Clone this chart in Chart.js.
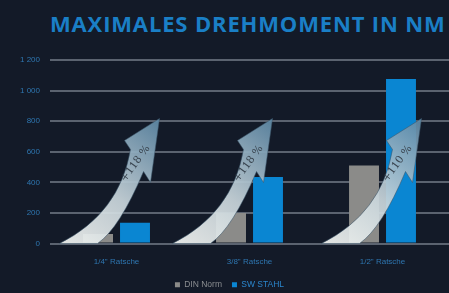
<!DOCTYPE html>
<html>
<head>
<meta charset="utf-8">
<script src="https://cdn.jsdelivr.net/npm/chart.js@4"></script>
<style>
  html, body { margin: 0; padding: 0; background: #131a28; }
  #wrap { position: relative; width: 449px; height: 293px; overflow: hidden; }
  #title { position: absolute; left: 50px; top: 8px; white-space: nowrap;
    font-family: "Open Sans", sans-serif; font-weight: 700; font-size: 22px;
    letter-spacing: 0.85px; color: #1a7fc6; }
  canvas { position: absolute; left: 0; top: 0; }
</style>
</head>
<body>
<div id="wrap">
  <div id="title">MAXIMALES DREHMOMENT IN NM</div>
  <canvas id="c" width="449" height="299"></canvas>
</div>
<script>
  "use strict";
  // Daten
  var categories = ['1/4" Ratsche', '3/8" Ratsche', '1/2" Ratsche'];
  var dinNorm = [62, 200, 510];
  var swStahl = [135, 435, 1075];
  var increase = ["+118 %", "+118 %", "+110 %"];
  var yTicks = [0, 200, 400, 600, 800, 1000, 1200];

  var BLUE = "#0a86d2", GRAY = "#8b8b89";

  // Pfeile mit Prozentangabe (Form relativ zum Fußpunkt links unten)
  var arrowShift = [-57, -77, -61];
  var arrowPlugin = {
    id: "arrows",
    afterDatasetsDraw: function (chart) {
      var ctx = chart.ctx, xs = chart.scales.x, ys = chart.scales.y;
      var y0 = ys.getPixelForValue(0);
      categories.forEach(function (c, i) {
        var tx = xs.getPixelForValue(i) + arrowShift[i];
        function P(dx, dy) { return [tx + dx, y0 + dy]; }
        ctx.save();
        var g = ctx.createLinearGradient(tx, y0, tx + 99, y0 - 125);
        g.addColorStop(0, "#f4f6f3");
        g.addColorStop(0.45, "#c8d5db");
        g.addColorStop(1, "#5d88a5");
        ctx.fillStyle = g;
        ctx.globalAlpha = 0.93;
        ctx.beginPath();
        var p = P(0, 0); ctx.moveTo(p[0], p[1]);
        var c1 = P(60, -30), e1 = P(71, -94);
        ctx.quadraticCurveTo(c1[0], c1[1], e1[0], e1[1]);
        p = P(65, -103); ctx.lineTo(p[0], p[1]);
        p = P(100, -125); ctx.lineTo(p[0], p[1]);
        p = P(91, -61); ctx.lineTo(p[0], p[1]);
        p = P(84, -72); ctx.lineTo(p[0], p[1]);
        var c2 = P(60, -15), e2 = P(38, 0);
        ctx.quadraticCurveTo(c2[0], c2[1], e2[0], e2[1]);
        ctx.closePath();
        ctx.fill();
        ctx.globalAlpha = 1;
        ctx.strokeStyle = "rgba(60,85,105,0.55)";
        ctx.lineWidth = 1;
        ctx.stroke();
        // Beschriftung
        var t = P(76, -80);
        ctx.translate(t[0], t[1]);
        ctx.rotate(-54 * Math.PI / 180);
        ctx.fillStyle = "#3a4550";
        ctx.font = "10.5px 'DejaVu Serif', serif";
        ctx.textAlign = "center";
        ctx.textBaseline = "middle";
        ctx.fillText(increase[i], 0, 0);
        ctx.restore();
      });
    }
  };

  function fmt(v) { return v >= 1000 ? String(v).replace(/(\d)(\d{3})$/, "$1 $2") : String(v); }

  new Chart(document.getElementById("c"), {
    type: "bar",
    data: {
      labels: categories,
      datasets: [
        { label: "DIN Norm", data: dinNorm, backgroundColor: GRAY },
        { label: "SW STAHL", data: swStahl, backgroundColor: BLUE }
      ]
    },
    options: {
      responsive: false, animation: false,
      layout: { padding: { left: 10, right: 0, top: 60, bottom: 0 } },
      datasets: { bar: { categoryPercentage: 0.556, barPercentage: 0.81 } },
      plugins: {
        title: { display: false },
        tooltip: { enabled: false },
        legend: {
          position: "bottom",
          labels: {
            boxWidth: 5, boxHeight: 5, padding: 10,
            font: { family: "'Liberation Sans', sans-serif", size: 8.5 },
            generateLabels: function (chart) {
              return chart.data.datasets.map(function (d, i) {
                return { text: d.label, fillStyle: d.backgroundColor, strokeStyle: d.backgroundColor,
                  lineWidth: 0, fontColor: i === 0 ? "#8a8d90" : "#2b86cc", datasetIndex: i };
              });
            }
          }
        }
      },
      scales: {
        x: {
          grid: { display: false },
          border: { display: false },
          afterFit: function (ax) { ax.height = 27; },
          ticks: { color: "#2e76b0", padding: 5, font: { family: "'Liberation Sans', sans-serif", size: 8 } }
        },
        y: {
          min: 0, max: 1200,
          afterBuildTicks: function (ax) { ax.ticks = yTicks.map(function (v) { return { value: v }; }); },
          border: { display: false },
          grid: { color: "#5b6370", lineWidth: 2, drawTicks: false },
          ticks: { color: "#2e76b0", padding: 10, callback: fmt,
            font: { family: "'Liberation Sans', sans-serif", size: 8 } }
        }
      }
    },
    plugins: [arrowPlugin]
  });
</script>
</body>
</html>
